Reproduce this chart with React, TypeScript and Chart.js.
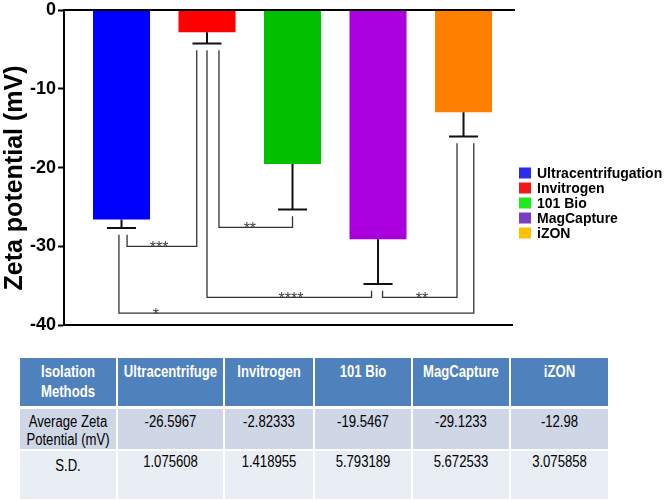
import React, { useEffect, useRef } from "react";
import { Chart, registerables } from "chart.js";

Chart.register(...registerables);

// ---- data ----
const categories = ["Ultracentrifugation", "Invitrogen", "101 Bio", "MagCapture", "iZON"];
const tableMethods = ["Ultracentrifuge", "Invitrogen", "101 Bio", "MagCapture", "iZON"];
const meanValues = [-26.5967, -2.82333, -19.5467, -29.1233, -12.98];
const sdValues = [1.075608, 1.418955, 5.793189, 5.672533, 3.075858];
const barColors = ["#0000FF", "#FF0000", "#00C000", "#AA00DD", "#FF8000"];
const legendColors = ["#2B2BF0", "#F01A1A", "#1EEA1E", "#7A3CC0", "#FFC000"];
const yTicks = [0, -10, -20, -30, -40];
const tableRowLabels = ["Average Zeta Potential (mV)", "S.D."];
const tableCorner = "Isolation Methods";

// significance brackets: bar indices, leg offsets (in category units), level (mV), label
const bracketFrom = [0, 1, 1, 3, 0];
const bracketFromOff = [0.065, 0.14, 0, 0.053, -0.03];
const bracketTo = [1, 2, 3, 4, 4];
const bracketToOff = [-0.12, 0, -0.076, -0.076, 0.12];
const bracketLevel = [-30.0, -27.6, -36.5, -36.5, -38.5];
const bracketLabel = ["***", "**", "****", "**", "*"];
const bracketLabelPos = [0.46, 0.42, 0.51, 0.53, 0.104];

const FONT = "'Liberation Sans', Arial, sans-serif";
const SQUEEZE = 0.82;

const overlayPlugin = {
  id: "overlay",
  afterDatasetsDraw(chart: any) {
    const ctx = chart.ctx;
    const xs = chart.scales.x;
    const ys = chart.scales.y;
    const area = chart.chartArea;
    ctx.save();
    // top (0) and bottom (-40) lines
    ctx.strokeStyle = "#000";
    ctx.lineWidth = 2;
    ctx.beginPath();
    ctx.moveTo(area.left - 1, ys.getPixelForValue(0));
    ctx.lineTo(area.right, ys.getPixelForValue(0));
    ctx.moveTo(area.left - 1, ys.getPixelForValue(-40));
    ctx.lineTo(area.right - 2, ys.getPixelForValue(-40));
    ctx.stroke();

    // error bars (downward only)
    const capHalf = 0.17;
    ctx.strokeStyle = "#111";
    ctx.lineWidth = 2;
    meanValues.forEach((m, i) => {
      const cx = xs.getPixelForValue(i + 1);
      const y0 = ys.getPixelForValue(m);
      const y1 = ys.getPixelForValue(m - sdValues[i]);
      ctx.beginPath();
      ctx.moveTo(cx, y0);
      ctx.lineTo(cx, y1);
      ctx.moveTo(xs.getPixelForValue(i + 1 - capHalf), y1);
      ctx.lineTo(xs.getPixelForValue(i + 1 + capHalf), y1);
      ctx.stroke();
    });

    // brackets
    ctx.strokeStyle = "#333";
    ctx.lineWidth = 1.3;
    ctx.fillStyle = "#444";
    ctx.font = "16px " + FONT;
    ctx.textAlign = "center";
    ctx.textBaseline = "alphabetic";
    bracketLevel.forEach((lvl, k) => {
      const a = bracketFrom[k];
      const b = bracketTo[k];
      const xa = xs.getPixelForValue(a + 1 + bracketFromOff[k]);
      const xb = xs.getPixelForValue(b + 1 + bracketToOff[k]);
      const ya = ys.getPixelForValue(meanValues[a] - sdValues[a] - 0.85);
      const yb = ys.getPixelForValue(meanValues[b] - sdValues[b] - 0.85);
      const yl = ys.getPixelForValue(lvl);
      ctx.beginPath();
      ctx.moveTo(xa, ya);
      ctx.lineTo(xa, yl);
      ctx.lineTo(xb, yl);
      ctx.lineTo(xb, yb);
      ctx.stroke();
      const lx = xa + (xb - xa) * bracketLabelPos[k];
      ctx.fillText(bracketLabel[k], lx, yl + 7);
    });

    // legend
    ctx.textAlign = "left";
    ctx.textBaseline = "middle";
    ctx.font = "bold 14px " + FONT;
    const lx0 = area.right + 4;
    categories.forEach((c, i) => {
      const cy = 173 + i * 15;
      ctx.fillStyle = legendColors[i];
      ctx.fillRect(lx0, cy - 5.5, 12, 11);
      ctx.fillStyle = "#000";
      ctx.fillText(c, lx0 + 18, cy + 1);
    });

    // y-axis title
    ctx.save();
    ctx.translate(15, 178);
    ctx.rotate(-Math.PI / 2);
    ctx.font = "bold 25px " + FONT;
    ctx.fillStyle = "#000";
    ctx.textAlign = "center";
    ctx.textBaseline = "middle";
    ctx.fillText("Zeta potential (mV)", 0, 0);
    ctx.restore();

    ctx.restore();
  },
};

function ZetaChart() {
  const ref = useRef<HTMLCanvasElement | null>(null);
  useEffect(() => {
    if (!ref.current) return;
    const chart = new Chart(ref.current, {
      type: "bar",
      data: {
        datasets: [
          {
            data: meanValues.map((v, i) => ({ x: i + 1, y: v })),
            backgroundColor: barColors,
            borderWidth: 0,
            barPercentage: 0.667,
            categoryPercentage: 1,
          },
        ],
      },
      options: {
        animation: false,
        responsive: false,
        layout: { padding: { left: 0, right: 150, top: 0, bottom: 15 } },
        plugins: { legend: { display: false }, tooltip: { enabled: false } },
        scales: {
          x: {
            type: "linear",
            min: 0.3275,
            max: 5.602,
            offset: false,
            display: false,
          },
          y: {
            min: -40,
            max: 0,
            afterBuildTicks: (s: any) => {
              s.ticks = yTicks.map((v) => ({ value: v }));
            },
            afterFit: (s: any) => {
              s.width = 64;
            },
            border: { display: true, color: "#000", width: 2 },
            grid: {
              drawOnChartArea: false,
              drawTicks: true,
              tickLength: 6,
              tickColor: "#000",
              tickWidth: 2,
            },
            ticks: {
              padding: 2,
              color: "#000",
              font: { family: FONT, size: 18, weight: "bold", lineHeight: 0.9 },
            },
          },
        },
      },
      plugins: [overlayPlugin],
    } as any);
    return () => chart.destroy();
  }, []);
  return <canvas ref={ref} width={665} height={340} style={{ display: "block" }} />;
}

const colWidths = [96, 105, 88, 96, 96, 97];

function Cell(props: {
  w: number;
  h: number;
  bg: string;
  pad: number;
  mt: number;
  lh: number;
  bold?: boolean;
  color: string;
  text: string;
}) {
  const { w, h, bg, pad, mt, lh, bold, color, text } = props;
  return (
    <div
      style={{
        width: w,
        height: h,
        background: bg,
        marginTop: mt,
        boxSizing: "border-box",
        paddingTop: pad,
        overflow: "hidden",
      }}
    >
      <div
        style={{
          width: w / SQUEEZE,
          transform: `scaleX(${SQUEEZE})`,
          transformOrigin: "left top",
          textAlign: "center",
          fontFamily: FONT,
          fontSize: 16,
          lineHeight: lh + "px",
          fontWeight: bold ? "bold" : "normal",
          color,
        }}
      >
        {text}
      </div>
    </div>
  );
}

function DataTable() {
  const rowBgs = ["#CFD6E6", "#E9EDF4"];
  const rowHeights = [40, 48];
  const rowPad = [4, 2];
  const rowGapTop = [3, 2];
  const rows = [meanValues.map((v) => String(v)), sdValues.map((v) => String(v))];
  return (
    <div
      style={{
        position: "absolute",
        left: 20,
        top: 358,
        display: "grid",
        gridTemplateColumns: colWidths.map((w) => w + "px").join(" "),
        columnGap: 2,
        rowGap: 0,
      }}
    >
      <Cell w={colWidths[0]} h={48} bg="#4F81BD" pad={4} mt={0} lh={20} bold color="#fff" text={tableCorner} />
      {tableMethods.map((m, i) => (
        <Cell key={m} w={colWidths[i + 1]} h={48} bg="#4F81BD" pad={4} mt={0} lh={20} bold color="#fff" text={m} />
      ))}
      {rows.map((r, ri) => (
        <React.Fragment key={ri}>
          <Cell
            w={colWidths[0]}
            h={rowHeights[ri]}
            bg={rowBgs[ri]}
            pad={rowPad[ri] + (ri === 1 ? 4 : 0)}
            mt={rowGapTop[ri]}
            lh={18}
            color="#000"
            text={tableRowLabels[ri]}
          />
          {r.map((t, ci) => (
            <Cell
              key={ci}
              w={colWidths[ci + 1]}
              h={rowHeights[ri]}
              bg={rowBgs[ri]}
              pad={rowPad[ri]}
              mt={rowGapTop[ri]}
              lh={18}
              color="#000"
              text={t}
            />
          ))}
        </React.Fragment>
      ))}
    </div>
  );
}

export default function App() {
  return (
    <div
      style={{
        position: "absolute",
        left: 0,
        top: 0,
        width: 665,
        height: 501,
        background: "#fff",
        overflow: "hidden",
      }}
    >
      <ZetaChart />
      <DataTable />
    </div>
  );
}
